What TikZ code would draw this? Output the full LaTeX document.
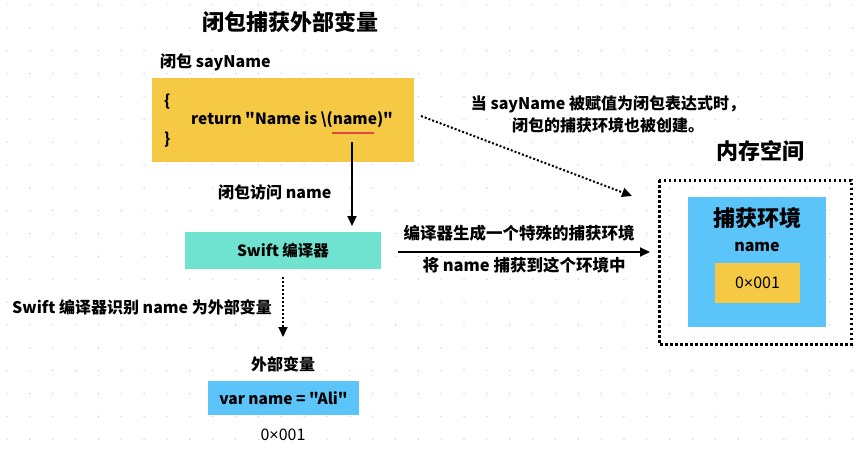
\documentclass[tikz,border=0pt]{standalone}
\usepackage{fontspec}
\newfontfamily\nf{Noto Sans CJK SC}
\newfontfamily\symf{Liberation Sans}
\usetikzlibrary{arrows.meta}
\definecolor{ybox}{HTML}{F6C944}
\definecolor{tbox}{HTML}{6FE3D0}
\definecolor{bbox}{HTML}{5BC4F8}
\definecolor{uline}{HTML}{E8453C}
\definecolor{dotc}{HTML}{C8C8C8}
\newcommand{\tms}{{\symf ×}}
\tikzset{
  lbl/.style={inner sep=0pt, font=\nf\fontsize{16}{18}\selectfont\bfseries},
  mid/.style={inner sep=0pt, font=\nf\fontsize{16.5}{18}\selectfont\bfseries},
  big/.style={inner sep=0pt, font=\nf\fontsize{22}{24}\selectfont\bfseries},
  codef/.style={inner sep=0pt, font=\nf\fontsize{15.5}{17}\selectfont\bfseries},
  regf/.style={inner sep=0pt, font=\nf\fontsize{16}{18}\selectfont},
  arr/.style={line width=2pt, -{Triangle[length=10pt,width=9pt]}},
  darr/.style={line width=2pt, dash pattern=on 2pt off 2pt, -{Triangle[length=10pt,width=9pt]}},
}
\begin{document}
\begin{tikzpicture}[x=1pt,y=-1pt]
\useasboundingbox (0,0) rectangle (866,449);
\fill[white] (0,0) rectangle (866,449);
% dot grid
\foreach \i in {0,...,37}{
  \foreach \j in {0,...,19}{
    \fill[dotc] (7+\i*22.85, 5+\j*22.85) circle (0.7);
  }
}
% title
\node[big] (title) at (290,22) {闭包捕获外部变量};
% closure
\node[lbl, anchor=west] (clab) at (160,62) {闭包 sayName};
\fill[ybox] (152,78) rectangle (414,162);
\node[codef, anchor=west] (ob) at (164,102) {\{};
\node[codef, anchor=west] (ret) at (191,120) {return "Name is \textbackslash(name)"};
\node[codef, anchor=west] (cb) at (164,140) {\}};
\draw[uline, line width=2pt] (332,133) -- (374,133);
% arrow down to compiler
\coordinate (a1s) at (352,142);
\coordinate (a1e) at (352,226);
\draw[arr] (a1s) -- (a1e);
\node[lbl, anchor=west] (acc) at (218,192) {闭包访问 name};
% compiler
\node[fill=tbox, minimum width=196pt, minimum height=37pt, codef] (swift) at (283,250.5) {Swift 编译器};
% dotted arrow down
\coordinate (a2s) at (283,277);
\coordinate (a2e) at (283,337);
\draw[darr] (a2s) -- (a2e);
\node[lbl, anchor=west] (rec) at (12,307) {Swift 编译器识别 name 为外部变量};
% external var
\node[lbl] (ext) at (283,364) {外部变量};
\node[fill=bbox, minimum width=151pt, minimum height=34pt, codef] (var) at (283.5,398) {var name = "Ali"};
\node[regf] (addr1) at (283,435) {0\tms 001};
% horizontal arrow
\coordinate (a3s) at (398,252);
\coordinate (a3e) at (650,252);
\draw[arr] (a3s) -- (a3e);
\node[mid] (gen) at (519,233) {编译器生成一个特殊的捕获环境};
\node[mid] (cap) at (524,265) {将 name 捕获到这个环境中};
% diagonal dotted arrow
\coordinate (a4s) at (421,116);
\coordinate (a4e) at (632,196);
\draw[darr] (a4s) -- (a4e);
\node[lbl] (n1) at (608,104) {当 sayName 被赋值为闭包表达式时，};
\node[lbl] (n2) at (608,125) {闭包的捕获环境也被创建。};
% memory space
\node[big] (mem) at (760,151) {内存空间};
\draw[line width=3pt, dash pattern=on 2.5pt off 2.5pt] (659,180) rectangle (851,344);
\fill[bbox] (688,197) rectangle (826,327);
\node[big] (env) at (757,218) {捕获环境};
\node[lbl] (ename) at (757,247) {name};
\node[fill=ybox, minimum width=85pt, minimum height=40pt, regf] (addr2) at (757.5,282.5) {0\tms 001};
\end{tikzpicture}
\end{document}
